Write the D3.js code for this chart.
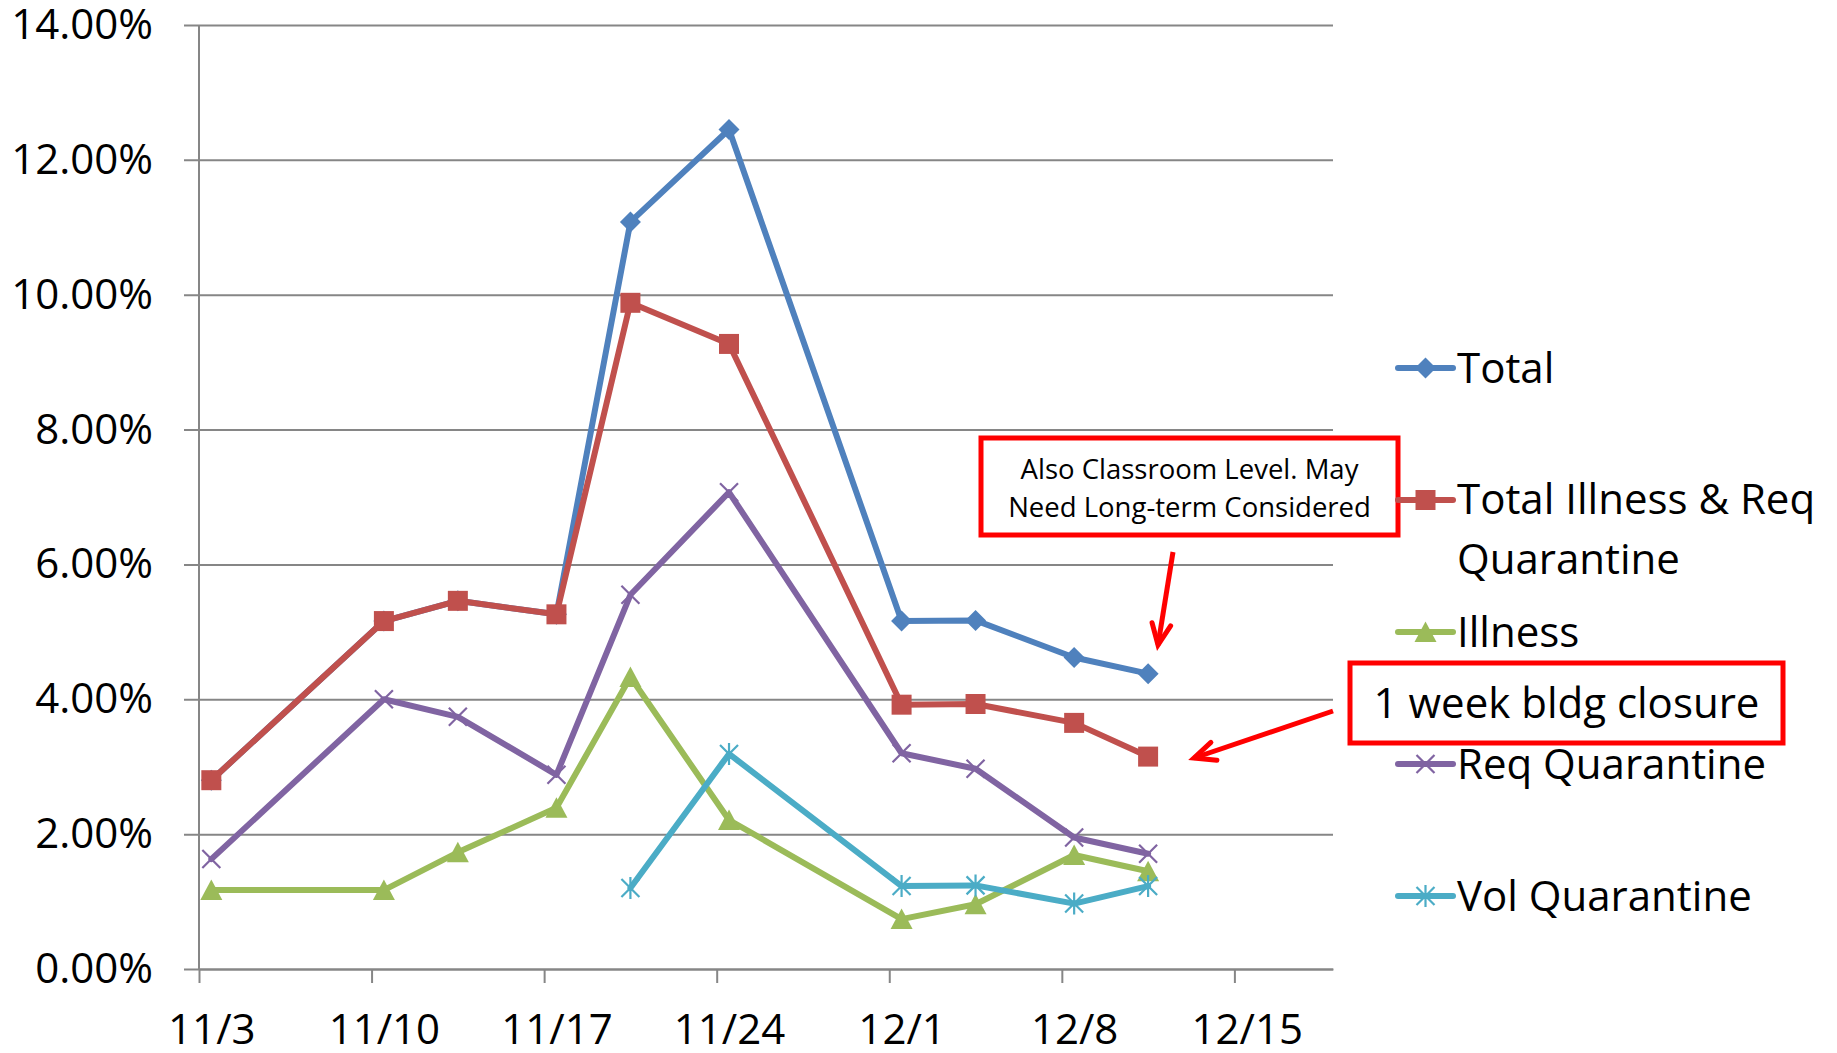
<!DOCTYPE html>
<html>
<head>
<meta charset="utf-8">
<script src="https://cdnjs.cloudflare.com/ajax/libs/d3/7.8.5/d3.min.js"></script>
<style>
body { margin: 0; background: #fff; }
text { font-family: "Open Sans", sans-serif; fill: #000; }
</style>
</head>
<body>
<div id="chart"></div>
<script>
// data (percent values)
var dates = ["2020-11-03", "2020-11-10", "2020-11-13", "2020-11-17", "2020-11-20",
             "2020-11-24", "2020-12-01", "2020-12-04", "2020-12-08", "2020-12-11"];
var total        = [2.80, 5.16, 5.46, 5.26, 11.08, 12.45, 5.16, 5.17, 4.62, 4.38];
var illnessReq   = [2.80, 5.16, 5.46, 5.26, 9.88, 9.27, 3.92, 3.93, 3.65, 3.15];
var illness      = [1.17, 1.17, 1.73, 2.39, 4.33, 2.21, 0.74, 0.96, 1.69, 1.45];
var reqQuar      = [1.63, 4.00, 3.74, 2.88, 5.55, 7.07, 3.20, 2.97, 1.95, 1.71];
var volQuar      = [null, null, null, null, 1.20, 3.19, 1.23, 1.24, 0.97, 1.23];

var seriesNames  = ["Total", "Total Illness & Req Quarantine", "Illness", "Req Quarantine", "Vol Quarantine"];
var seriesColors = ["#4F81BD", "#C0504D", "#9BBB59", "#8064A2", "#4BACC6"];
var seriesMarks  = ["diamond", "square", "triangle", "x", "star"];

var tickDates  = ["2020-11-03", "2020-11-10", "2020-11-17", "2020-11-24", "2020-12-01", "2020-12-08", "2020-12-15"];
var tickLabels = ["11/3", "11/10", "11/17", "11/24", "12/1", "12/8", "12/15"];
var yTicks = [0, 2, 4, 6, 8, 10, 12, 14];

var svgWidth = 1837;
var svgHeight = 1053;

var svg = d3.select("#chart").append("svg")
  .attr("width", svgWidth)
  .attr("height", svgHeight);

var plotLeft = 199, plotRight = 1333, plotTop = 25, plotBottom = 969;

var x = d3.scaleUtc()
  .domain([new Date("2020-11-03"), new Date("2020-12-19")])
  .range([plotLeft, plotRight]);

var y = d3.scaleLinear()
  .domain([0, 14])
  .range([plotBottom, plotTop]);

// points sit in the middle of their day
function xPos(d) { return x(d3.utcHour.offset(new Date(d), 12)); }

// gridlines + y labels
var yAxis = svg.append("g")
  .attr("transform", "translate(184,0)")
  .call(d3.axisLeft(y).tickValues(yTicks)
    .tickSize(-(plotRight - 184)).tickPadding(31)
    .tickFormat(function(d) { return d.toFixed(2) + "%"; }));
yAxis.select(".domain").remove();
yAxis.selectAll("line").attr("stroke", "#868686").attr("stroke-width", 2);
yAxis.selectAll("text").style("font-size", "42px").attr("fill", "#000");

svg.append("line")
  .attr("x1", plotLeft).attr("x2", plotLeft)
  .attr("y1", plotTop).attr("y2", plotBottom)
  .attr("stroke", "#868686").attr("stroke-width", 2);

// x ticks
var xAxis = svg.append("g")
  .attr("transform", "translate(0," + plotBottom + ")")
  .call(d3.axisBottom(x).tickValues(tickDates.map(function(d) { return new Date(d); }))
    .tickSize(14).tickSizeOuter(0).tickFormat(""));
xAxis.select(".domain").attr("stroke", "#868686").attr("stroke-width", 2);
xAxis.selectAll("line").attr("stroke", "#868686").attr("stroke-width", 2);

// x labels, centred on the day
var xLabels = svg.append("g")
  .attr("transform", "translate(0," + plotBottom + ")")
  .call(d3.axisBottom(x)
    .tickValues(tickDates.map(function(d) { return d3.utcHour.offset(new Date(d), 12); }))
    .tickSize(0)
    .tickFormat(function(d, i) { return tickLabels[i]; }));
xLabels.select(".domain").remove();
xLabels.selectAll("text").attr("y", 75).attr("dy", null)
  .style("font-size", "42px").attr("fill", "#000");

// marker shapes
function markerPath(type) {
  if (type == "diamond") return "M0,-10.5L10.5,0L0,10.5L-10.5,0Z";
  if (type == "square") return "M-10,-10L10,-10L10,10L-10,10Z";
  if (type == "triangle") return "M0,-10.5L11,10L-11,10Z";
  if (type == "x") return "M-9,-9L9,9M-9,9L9,-9";
  return "M-9,-9L9,9M-9,9L9,-9M0,-11L0,11";
}
function isStroke(type) { return type == "x" || type == "star"; }

var allSeries = [total, illnessReq, illness, reqQuar, volQuar];

var line = d3.line()
  .defined(function(d) { return d.v != null; })
  .x(function(d) { return xPos(d.date); })
  .y(function(d) { return y(d.v); });

allSeries.forEach(function(vals, s) {
  var pts = dates.map(function(d, i) { return { date: d, v: vals[i] }; });
  var g = svg.append("g").attr("class", "series");
  g.append("path")
    .datum(pts)
    .attr("d", line)
    .attr("fill", "none")
    .attr("stroke", seriesColors[s])
    .attr("stroke-width", 6)
    .attr("stroke-linejoin", "round")
    .attr("stroke-linecap", "round");
  g.selectAll(".mark")
    .data(pts.filter(function(d) { return d.v != null; }))
    .enter()
    .append("path")
    .attr("class", "mark")
    .attr("transform", function(d) { return "translate(" + xPos(d.date) + "," + y(d.v) + ")"; })
    .attr("d", markerPath(seriesMarks[s]))
    .attr("fill", isStroke(seriesMarks[s]) ? "none" : seriesColors[s])
    .attr("stroke", isStroke(seriesMarks[s]) ? seriesColors[s] : "none")
    .attr("stroke-width", 2.2);
});

// annotation box 1
svg.append("rect")
  .attr("x", 981).attr("y", 438).attr("width", 417).attr("height", 97)
  .attr("fill", "#fff").attr("stroke", "#FF0000").attr("stroke-width", 5);
svg.append("text").attr("x", 1189.5).attr("y", 479).attr("text-anchor", "middle")
  .style("font-size", "27.5px").text("Also Classroom Level. May");
svg.append("text").attr("x", 1189.5).attr("y", 517).attr("text-anchor", "middle")
  .style("font-size", "27.5px").text("Need Long-term Considered");

// legend
var legend = svg.append("g").attr("id", "legend");
seriesNames.forEach(function(name, i) {
  var ly = 368 + i * 132;
  legend.append("line")
    .attr("x1", 1398).attr("x2", 1453).attr("y1", ly).attr("y2", ly)
    .attr("stroke", seriesColors[i]).attr("stroke-width", 6).attr("stroke-linecap", "round");
  legend.append("path")
    .attr("transform", "translate(1425.5," + ly + ")")
    .attr("d", markerPath(seriesMarks[i]))
    .attr("fill", isStroke(seriesMarks[i]) ? "none" : seriesColors[i])
    .attr("stroke", isStroke(seriesMarks[i]) ? seriesColors[i] : "none")
    .attr("stroke-width", 2.2);
  if (i == 1) {
    legend.append("text").attr("x", 1457).attr("y", ly + 14).style("font-size", "42px").text("Total Illness & Req");
    legend.append("text").attr("x", 1457).attr("y", ly + 74).style("font-size", "42px").text("Quarantine");
  } else {
    legend.append("text").attr("x", 1457).attr("y", ly + 15).style("font-size", "42px").text(name);
  }
});

// annotation box 2
svg.append("rect")
  .attr("x", 1350).attr("y", 663).attr("width", 433).attr("height", 80)
  .attr("fill", "#fff").attr("stroke", "#FF0000").attr("stroke-width", 5);
svg.append("text").attr("x", 1566.5).attr("y", 718).attr("text-anchor", "middle")
  .style("font-size", "42px").text("1 week bldg closure");

// arrows
function drawArrow(x1, y1, x2, y2) {
  var a = Math.atan2(y2 - y1, x2 - x1);
  var len = 23, spread = 0.42;
  var w1 = [x2 - len * Math.cos(a - spread), y2 - len * Math.sin(a - spread)];
  var w2 = [x2 - len * Math.cos(a + spread), y2 - len * Math.sin(a + spread)];
  svg.append("line")
    .attr("x1", x1).attr("y1", y1).attr("x2", x2).attr("y2", y2)
    .attr("stroke", "#FF0000").attr("stroke-width", 5);
  svg.append("path")
    .attr("d", "M" + w1[0] + "," + w1[1] + "L" + x2 + "," + y2 + "L" + w2[0] + "," + w2[1])
    .attr("fill", "none").attr("stroke", "#FF0000").attr("stroke-width", 5)
    .attr("stroke-linejoin", "miter").attr("stroke-linecap", "round");
}
drawArrow(1173, 552, 1158, 645);
drawArrow(1333, 711, 1194, 758);
</script>
</body>
</html>
